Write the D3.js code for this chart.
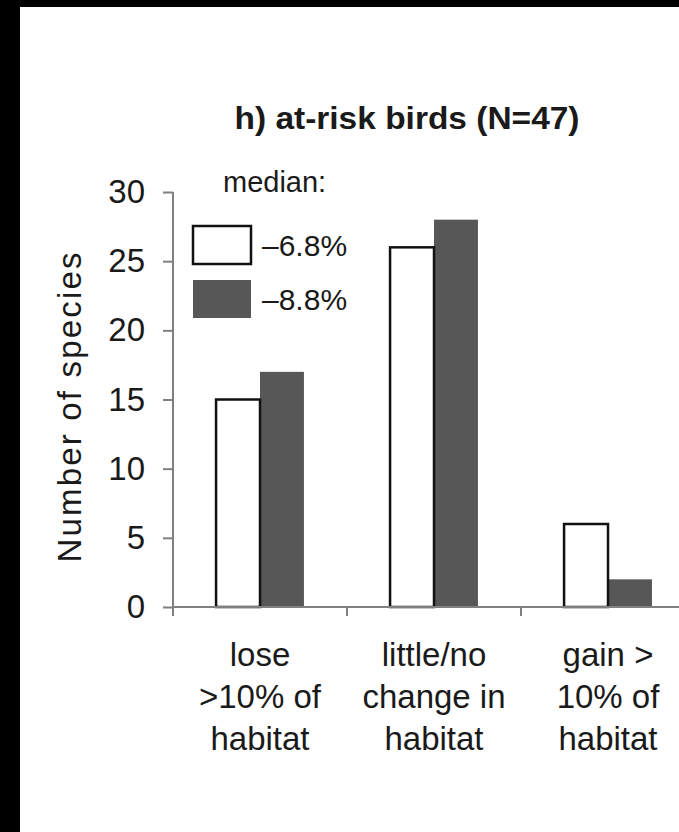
<!DOCTYPE html>
<html>
<head>
<meta charset="utf-8">
<script src="https://cdn.jsdelivr.net/npm/d3@7"></script>
<style>
  html, body { margin: 0; padding: 0; background: #000; }
  svg { display: block; }
  text { font-family: "Liberation Sans", Arial, sans-serif; fill: #1a1a1a; }
</style>
</head>
<body>
<script>
// Habitat-change classes (x categories), one label line per entry
const categories = ["lose", "little", "gain"];
const categoryLines = [
  ["lose", ">10% of", "habitat"],
  ["little/no", "change in", "habitat"],
  ["gain >", "10% of", "habitat"]
];

// Two scenarios, labelled by their median habitat change
const seriesNames = ["–6.8%", "–8.8%"];
const seriesOpen = [15, 26, 6];   // white bars
const seriesDark = [17, 28, 2];   // dark grey bars

const yTicks = [0, 5, 10, 15, 20, 25, 30];
const title = "h) at-risk birds (N=47)";
const yTitle = "Number of species";
const legendTitle = "median:";

const W = 679, H = 832;
const axisColor = "#808080";
const darkFill = "#575757";

const svg = d3.select("body").append("svg")
  .attr("width", W).attr("height", H);

// frame: black strip left and top, white panel
svg.append("rect").attr("width", W).attr("height", H).attr("fill", "#000");
svg.append("rect").attr("x", 20).attr("y", 7)
  .attr("width", W - 20).attr("height", H - 7).attr("fill", "#fff");

const y = d3.scaleLinear().domain([0, 30]).range([607, 192]);
const x0 = d3.scaleBand().domain(categories).range([173, 695]);
const x1 = d3.scaleBand().domain(seriesNames)
  .range([0, x0.bandwidth()]).paddingInner(0).paddingOuter(0.98);

// title
svg.append("text")
  .attr("x", 407).attr("y", 129)
  .attr("text-anchor", "middle")
  .attr("font-weight", "bold")
  .attr("font-size", 32)
  .attr("textLength", 345)
  .attr("lengthAdjust", "spacingAndGlyphs")
  .text(title);

// y axis
const yAxis = d3.axisLeft(y).tickValues(yTicks).tickSize(10).tickPadding(18)
  .tickFormat(d3.format("d"));
const gy = svg.append("g").attr("transform", "translate(173,0)").call(yAxis);
gy.select(".domain").remove();
gy.selectAll(".tick line").attr("stroke", axisColor).attr("stroke-width", 2);
gy.selectAll(".tick text")
  .attr("font-size", 33)
  .attr("font-family", "Liberation Sans, Arial, sans-serif")
  .attr("fill", "#1a1a1a");
svg.append("line")
  .attr("x1", 173).attr("x2", 173)
  .attr("y1", y(30)).attr("y2", y(0) + 9)
  .attr("stroke", axisColor).attr("stroke-width", 2);

// y title
svg.append("text")
  .attr("transform", `translate(81,${(y(0) + y(30)) / 2 + 8}) rotate(-90)`)
  .attr("text-anchor", "middle")
  .attr("font-size", 33)
  .attr("textLength", 310)
  .text(yTitle);

// bars
const groups = svg.append("g").selectAll("g")
  .data(categories)
  .join("g")
  .attr("transform", d => `translate(${x0(d)},0)`);

groups.append("rect")
  .attr("x", x1(seriesNames[1]))
  .attr("width", x1.bandwidth())
  .attr("y", (d, i) => y(seriesDark[i]))
  .attr("height", (d, i) => y(0) - y(seriesDark[i]))
  .attr("fill", darkFill);

groups.append("rect")
  .attr("x", x1(seriesNames[0]))
  .attr("width", x1.bandwidth())
  .attr("y", (d, i) => y(seriesOpen[i]))
  .attr("height", (d, i) => y(0) - y(seriesOpen[i]))
  .attr("fill", "#fff")
  .attr("stroke", "#111")
  .attr("stroke-width", 2.5);

// x axis line and category boundary ticks
svg.append("line")
  .attr("x1", 173).attr("x2", W)
  .attr("y1", y(0)).attr("y2", y(0))
  .attr("stroke", axisColor).attr("stroke-width", 2);
svg.append("g").selectAll("line")
  .data(categories.slice(1))
  .join("line")
  .attr("x1", d => x0(d)).attr("x2", d => x0(d))
  .attr("y1", y(0)).attr("y2", y(0) + 9)
  .attr("stroke", axisColor).attr("stroke-width", 2);

// category labels
svg.append("g").selectAll("text")
  .data(categories)
  .join("text")
  .attr("text-anchor", "middle")
  .attr("font-size", 33)
  .attr("transform", d => `translate(${x0(d) + x0.bandwidth() / 2},0)`)
  .each(function (d, i) {
    d3.select(this).selectAll("tspan")
      .data(categoryLines[i])
      .join("tspan")
      .attr("x", 0)
      .attr("y", (t, j) => 666 + j * 42)
      .text(t => t);
  });

// legend
svg.append("text")
  .attr("x", 223).attr("y", 192)
  .attr("font-size", 29)
  .text(legendTitle);

const legendRows = [
  { name: seriesNames[0], fill: "#fff", stroke: "#111", y: 226 },
  { name: seriesNames[1], fill: darkFill, stroke: "none", y: 280 }
];
const lg = svg.append("g").selectAll("g")
  .data(legendRows)
  .join("g")
  .attr("transform", d => `translate(193,${d.y})`);
lg.append("rect")
  .attr("width", 58).attr("height", 38)
  .attr("fill", d => d.fill)
  .attr("stroke", d => d.stroke)
  .attr("stroke-width", 2.5);
lg.append("text")
  .attr("x", 69).attr("y", 19)
  .attr("dy", "0.36em")
  .attr("font-size", 30)
  .text(d => d.name);
</script>
</body>
</html>
